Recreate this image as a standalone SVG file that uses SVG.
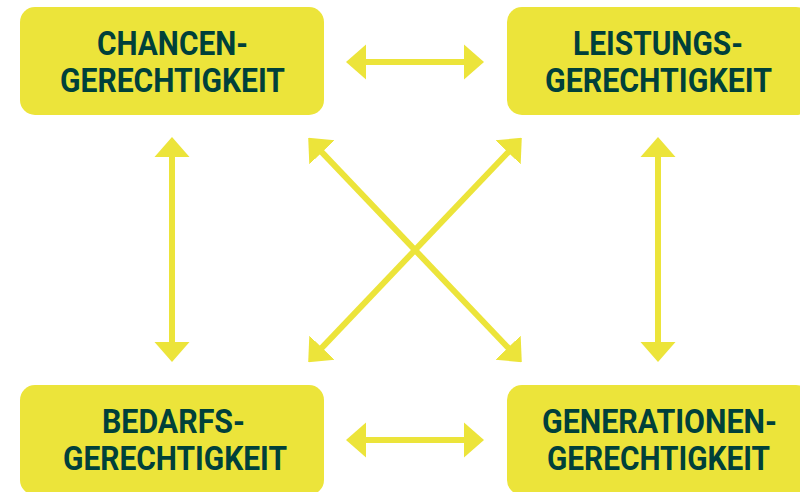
<svg xmlns="http://www.w3.org/2000/svg" width="800" height="492" viewBox="0 0 800 492">
  <style>
    .box { fill: #ECE43A; }
    .label { font-family: Roboto, "Liberation Sans", sans-serif; font-weight: 700; font-size: 33px; fill: #00403A; text-anchor: middle; }
    .link { stroke: #ECE43A; stroke-width: 6; fill: none; marker-start: url(#head); marker-end: url(#head); }
  </style>
  <defs>
    <marker id="head" markerUnits="userSpaceOnUse" viewBox="0 -18 20 36" refX="10" refY="0" markerWidth="20" markerHeight="36" orient="auto-start-reverse">
      <path d="M0,-17.5 L20,0 L0,17.5 Z" fill="#ECE43A"/>
    </marker>
  </defs>

  <rect width="800" height="492" fill="#FFFFFF"/>

  <!-- connectors -->
  <g id="connectors">
    <line class="link" x1="356" y1="62" x2="474" y2="62"/>
    <line class="link" x1="356" y1="440" x2="474" y2="440"/>
    <line class="link" x1="172" y1="147" x2="172" y2="352"/>
    <line class="link" x1="658" y1="147" x2="658" y2="352"/>
    <line class="link" x1="315.1" y1="145.1" x2="514.9" y2="354.9"/>
    <line class="link" x1="514.9" y1="145.1" x2="315.1" y2="354.9"/>
  </g>

  <!-- nodes -->
  <g id="chancen">
    <rect class="box" x="20" y="7" width="304" height="108" rx="15"/>
    <text class="label" x="172.5" y="55" textLength="151" lengthAdjust="spacingAndGlyphs">CHANCEN-</text>
    <text class="label" x="172.5" y="92" textLength="225" lengthAdjust="spacingAndGlyphs">GERECHTIGKEIT</text>
  </g>
  <g id="leistung">
    <rect class="box" x="507" y="7" width="304" height="108" rx="15"/>
    <text class="label" x="658" y="55" textLength="170" lengthAdjust="spacingAndGlyphs">LEISTUNGS-</text>
    <text class="label" x="658.5" y="92" textLength="227" lengthAdjust="spacingAndGlyphs">GERECHTIGKEIT</text>
  </g>
  <g id="bedarf">
    <rect class="box" x="20" y="385" width="304" height="110" rx="15"/>
    <text class="label" x="173.5" y="433" textLength="143" lengthAdjust="spacingAndGlyphs">BEDARFS-</text>
    <text class="label" x="175" y="470" textLength="224" lengthAdjust="spacingAndGlyphs">GERECHTIGKEIT</text>
  </g>
  <g id="generationen">
    <rect class="box" x="507" y="385" width="304" height="110" rx="15"/>
    <text class="label" x="659.5" y="433" textLength="235" lengthAdjust="spacingAndGlyphs">GENERATIONEN-</text>
    <text class="label" x="658.5" y="470" textLength="223" lengthAdjust="spacingAndGlyphs">GERECHTIGKEIT</text>
  </g>
</svg>
